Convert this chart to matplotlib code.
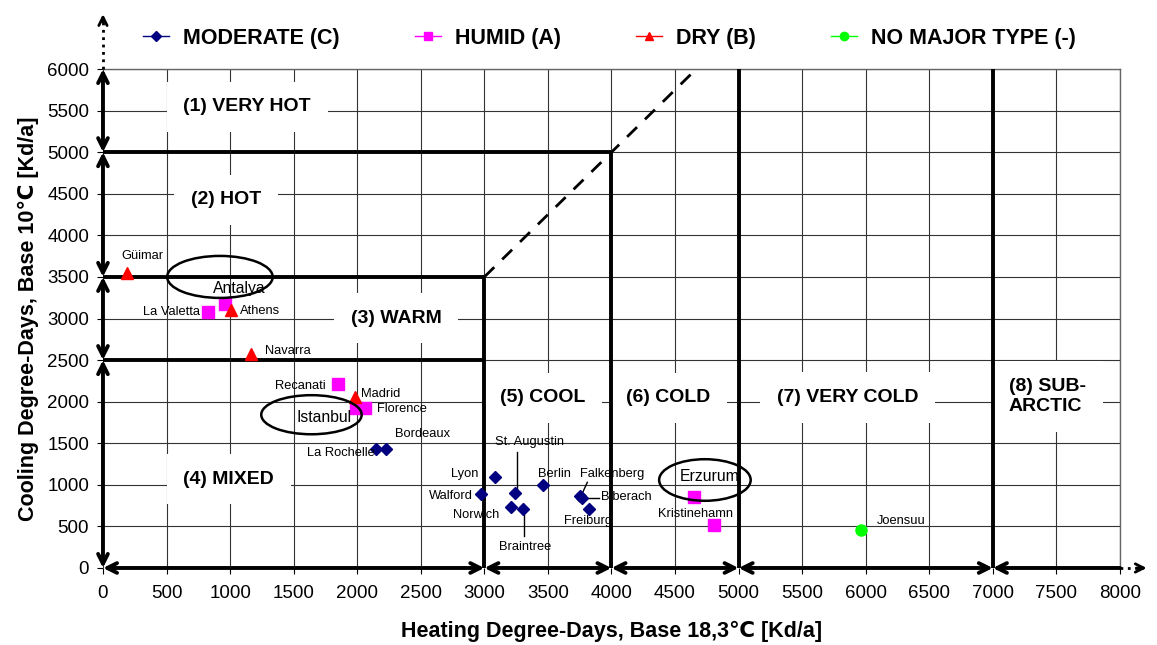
import matplotlib
matplotlib.use('Agg')
import matplotlib.pyplot as plt
from matplotlib.patches import Ellipse
from matplotlib.lines import Line2D

plt.rcParams['font.family'] = ['Liberation Sans', 'DejaVu Sans']

# data: heating degree-days (x), cooling degree-days (y)
mod_names = ['La Rochelle', 'Bordeaux', 'Lyon', 'Walford', 'St. Augustin', 'Norwich',
             'Braintree', 'Berlin', 'Falkenberg', 'Biberach', 'Freiburg']
mod_x = [2150, 2225, 3080, 2970, 3245, 3210, 3305, 3460, 3750, 3765, 3825]
mod_y = [1430, 1435, 1100, 890, 900, 730, 710, 1000, 860, 840, 715]

hum_names = ['Antalya', 'La Valetta', 'Recanati', 'Istanbul', 'Florence', 'Erzurum', 'Kristinehamn']
hum_x = [960, 830, 1850, 1990, 2060, 4650, 4805]
hum_y = [3180, 3080, 2210, 1920, 1920, 850, 515]

dry_names = ['Güimar', 'Athens', 'Navarra', 'Madrid']
dry_x = [190, 1010, 1165, 1980]
dry_y = [3550, 3100, 2570, 2060]

none_names = ['Joensuu']
none_x = [5965]
none_y = [455]

x_ticks = list(range(0, 8001, 500))
y_ticks = list(range(0, 6001, 500))

fig = plt.figure(figsize=(11.57, 6.45), dpi=100)
ax = fig.add_axes([0.089, 0.1194, 0.879, 0.7736])
ax.set_xlim(0, 8000)
ax.set_ylim(0, 6000)
ax.set_xticks(x_ticks)
ax.set_yticks(y_ticks)
ax.tick_params(labelsize=13.5, length=4, width=0.8, direction='out', pad=6)
ax.tick_params(axis='x', pad=8)
ax.grid(True, color='#333333', lw=0.8, zorder=0)
ax.set_axisbelow(True)
for s in ['left', 'bottom']:
    ax.spines[s].set_visible(False)
for s in ['top', 'right']:
    ax.spines[s].set_color('#666666')
    ax.spines[s].set_linewidth(1)

ax.set_xlabel('Heating Degree-Days, Base 18,3\u2103 [Kd/a]', fontsize=15.5, fontweight='bold')
ax.xaxis.set_label_coords(0.5, -0.105)
ax.set_ylabel('Cooling Degree-Days, Base 10\u2103 [Kd/a]', fontsize=15.5, fontweight='bold', labelpad=6)

# zone boundaries
bk = dict(color='black', lw=2.8, zorder=4, solid_capstyle='butt')
ax.plot([0, 4000], [5000, 5000], **bk)
ax.plot([0, 3000], [3500, 3500], **bk)
ax.plot([0, 3000], [2500, 2500], **bk)
ax.plot([3000, 3000], [0, 3500], **bk)
ax.plot([4000, 4000], [0, 5000], **bk)
ax.plot([5000, 5000], [0, 6000], **bk)
ax.plot([7000, 7000], [0, 6000], **bk)
ax.plot([3000, 4667], [3500, 6000], color='black', lw=2, ls=(0, (5, 4)), zorder=4)

# axis arrows
def arrow(p0, p1, style='<->'):
    ax.annotate('', xy=p1, xytext=p0, annotation_clip=False,
                arrowprops=dict(arrowstyle=style + ',head_length=0.7,head_width=0.35',
                                lw=2.8, color='black', shrinkA=0, shrinkB=0), zorder=5)

for a, b in [(0, 2500), (2500, 3500), (3500, 5000), (5000, 6000)]:
    arrow((0, a), (0, b))
for a, b in [(0, 3000), (3000, 4000), (4000, 5000), (5000, 7000)]:
    arrow((a, 0), (b, 0))
arrow((8000, 0), (7000, 0), style='->')
ax.plot([0, 0], [6000, 6600], color='black', lw=2, ls=':', clip_on=False, zorder=5)
ax.annotate('', xy=(0, 6660), xytext=(0, 6560), annotation_clip=False,
            arrowprops=dict(arrowstyle='->,head_length=0.6,head_width=0.3', lw=2,
                            color='black', shrinkA=0, shrinkB=0))
ax.plot([8000, 8180], [0, 0], color='black', lw=2, ls=':', clip_on=False, zorder=5)
ax.annotate('', xy=(8210, 0), xytext=(8130, 0), annotation_clip=False,
            arrowprops=dict(arrowstyle='->,head_length=0.6,head_width=0.3', lw=2,
                            color='black', shrinkA=0, shrinkB=0))

# zone labels
box = dict(facecolor='white', edgecolor='none', pad=12)
zones = [('(1) VERY HOT', 1135, 5545), ('(2) HOT', 970, 4425), ('(3) WARM', 2305, 3005),
         ('(4) MIXED', 990, 1070), ('(5) COOL', 3455, 2045), ('(6) COLD', 4445, 2045),
         ('(7) VERY COLD', 5860, 2050), ('(8) SUB-\nARCTIC', 7430, 2060)]
for t, x, y in zones:
    ax.text(x, y, t, fontsize=14, fontweight='bold', ha='center', va='center',
            bbox=box, zorder=3, linespacing=1.25, multialignment='left')

# series
ax.plot(mod_x, mod_y, 'D', color='#000080', ms=6, zorder=6)
ax.plot(hum_x, hum_y, 's', color='#FF00FF', ms=8, zorder=6)
ax.plot(dry_x, dry_y, '^', color='#FF0000', ms=8, zorder=6)
ax.plot(none_x, none_y, 'o', color='#00FF00', ms=8, zorder=6)

# point labels
fs = 9.3
labels = [('Güimar', 145, 3750, 'left'), ('La Valetta', 765, 3080, 'right'),
          ('Athens', 1080, 3090, 'left'), ('Navarra', 1275, 2610, 'left'),
          ('Recanati', 1750, 2190, 'right'), ('Madrid', 2030, 2095, 'left'),
          ('Florence', 2155, 1915, 'left'), ('Bordeaux', 2295, 1610, 'left'),
          ('La Rochelle', 2135, 1385, 'right'), ('Lyon', 2950, 1130, 'right'),
          ('Walford', 2910, 865, 'right'), ('Norwich', 3115, 635, 'right'),
          ('Braintree', 3320, 250, 'center'), ('St. Augustin', 3355, 1515, 'center'),
          ('Berlin', 3420, 1130, 'left'), ('Falkenberg', 3755, 1130, 'left'),
          ('Biberach', 3920, 855, 'left'), ('Freiburg', 3625, 565, 'left'),
          ('Kristinehamn', 4365, 650, 'left'), ('Joensuu', 6090, 565, 'left')]
for t, x, y, ha in labels:
    ax.text(x, y, t, fontsize=fs, ha=ha, va='center', zorder=7)

# leader lines
ld = dict(color='black', lw=1, zorder=5)
ax.plot([3255, 3255], [935, 1400], **ld)
ax.plot([3310, 3310], [680, 380], **ld)
ax.plot([3765, 3810], [880, 1030], **ld)
ax.plot([3785, 3900], [845, 845], **ld)

# ellipses
for cx, cy, w, h, t, tx, ty in [(920, 3500, 830, 505, 'Antalya', 1070, 3355),
                                 (1640, 1843, 790, 470, 'Istanbul', 1740, 1815),
                                 (4735, 1058, 720, 500, 'Erzurum', 4775, 1105)]:
    ax.add_patch(Ellipse((cx, cy), w, h, fill=False, ec='black', lw=1.8, zorder=6))
    ax.text(tx, ty, t, fontsize=11.3, ha='center', va='center', zorder=7)

# legend
handles = [Line2D([], [], color='#000080', marker='D', ms=5, lw=1),
           Line2D([], [], color='#FF00FF', marker='s', ms=6, lw=1),
           Line2D([], [], color='#FF0000', marker='^', ms=6, lw=1),
           Line2D([], [], color='#00FF00', marker='o', ms=6, lw=1)]
names = ['MODERATE (C)', 'HUMID (A)', 'DRY (B)', 'NO MAJOR TYPE (-)']
fig.legend(handles, names, ncol=4, loc='center', bbox_to_anchor=(0.527, 0.941),
           frameon=False, prop={'size': 15.5, 'weight': 'bold'}, handlelength=1.2,
           columnspacing=3.5, handletextpad=0.65)

plt.savefig('out.png', dpi=100)
